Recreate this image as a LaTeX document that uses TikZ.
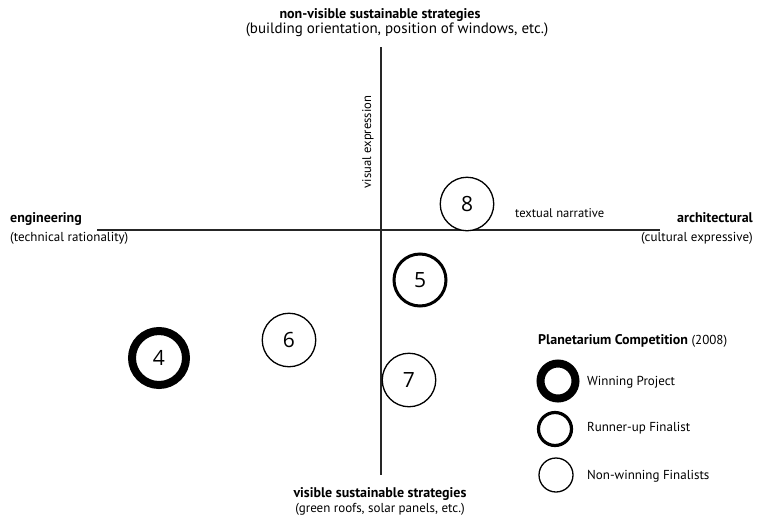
\documentclass[tikz,border=0pt]{standalone}
\usepackage{fontspec}
\setmainfont{PT Sans}
\newfontfamily\digitfont{Open Sans}
\tikzset{>=latex}
\tikzset{
    project/.style={circle, draw, fill=white, inner sep=0pt, font=\digitfont\fontsize{21}{21}\selectfont},
    winner/.style={project, line width=8pt, minimum size=54pt},
    runnerup/.style={project, line width=3pt, minimum size=52pt},
    finalist/.style={project, line width=1.3pt, minimum size=53.5pt},
    label/.style={inner sep=0pt, font=\fontsize{13}{15}\selectfont},
    heading/.style={label, font=\bfseries\fontsize{14}{16}\selectfont},
}

\begin{document}
\begin{tikzpicture}[x=1pt, y=-1pt]
    \useasboundingbox (0, 0) rectangle (761, 520);
    % axes
    \coordinate (west) at (97, 230);
    \coordinate (east) at (660, 230);
    \coordinate (north) at (381, 47);
    \coordinate (south) at (381, 475);
    \draw[line width=1.8pt, black!85] (west) -- (east);
    \draw[line width=1.8pt, black!85] (north) -- (south);
    \node[label, font=\fontsize{12.6}{15}\selectfont, rotate=90] (visual) at (368, 142) {visual expression};
    \node[label, font=\fontsize{12.6}{15}\selectfont, anchor=base west] (textual) at (515, 217) {textual narrative};
    % axis ends
    \node[heading, anchor=base] (nonvis) at (380, 18) {non-visible sustainable strategies};
    \node[label, font=\fontsize{15}{17}\selectfont, anchor=base] (nonvissub) at (397, 33) {(building orientation, position of windows, etc.)};
    \node[heading, anchor=base] (vis) at (380, 497) {visible sustainable strategies};
    \node[label, anchor=base] (vissub) at (380, 512) {(green roofs, solar panels, etc.)};
    \node[heading, anchor=base west] (eng) at (10, 222) {engineering};
    \node[label, anchor=base west] (engsub) at (10, 241) {(technical rationality)};
    \node[heading, anchor=base east] (arch) at (753, 222) {architectural};
    \node[label, anchor=base east] (archsub) at (753, 241) {(cultural expressive)};
    % projects
    \node[winner] (p4) at (159, 358) {4};
    \node[runnerup] (p5) at (420, 280) {5};
    \node[finalist] (p6) at (289, 340) {6};
    \node[finalist] (p7) at (409, 380) {7};
    \node[finalist] (p8) at (467, 204) {8};
    % legend
    \node[label, anchor=base west] (legend) at (538, 344) {\textbf{\fontsize{14}{16}\selectfont Planetarium Competition} (2008)};
    \node[project, line width=8pt, minimum size=35pt] (lwin) at (558, 381) {};
    \node[project, line width=3.2pt, minimum size=33pt] (lrun) at (555, 429) {};
    \node[project, line width=1.3pt, minimum size=34pt] (lfin) at (556, 475) {};
    \node[label, anchor=base west] (twin) at (587, 385) {Winning Project};
    \node[label, anchor=base west] (trun) at (587, 431) {Runner-up Finalist};
    \node[label, anchor=base west] (tfin) at (587, 479) {Non-winning Finalists};
\end{tikzpicture}
\end{document}
